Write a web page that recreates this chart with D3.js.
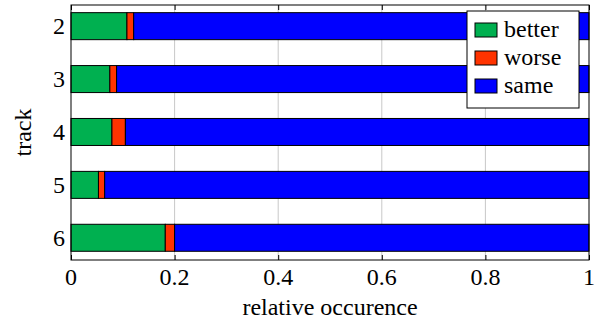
<!DOCTYPE html>
<html><head><meta charset="utf-8">
<script src="https://cdn.jsdelivr.net/npm/d3@7"></script>
</head><body style="margin:0">
<script>
const tracks = [2, 3, 4, 5, 6];
const better = [0.108, 0.075, 0.079, 0.053, 0.182];
const worse = [0.013, 0.013, 0.026, 0.012, 0.018];
const seriesNames = ["better", "worse", "same"];
const seriesColors = ["#00b050", "#ff3300", "#0000ff"];
const xTicks = [0, 0.2, 0.4, 0.6, 0.8, 1];

const FONT = "'Liberation Serif', 'Times New Roman', serif";
const W = 602, H = 326;
const L = 71, R = 589, T = 5, B = 260;
const svg = d3.select("body").append("svg").attr("width", W).attr("height", H).style("display", "block");
const x = d3.scaleLinear().domain([0, 1]).range([L, R]);
const y = d3.scaleLinear().domain([1.6, 6.42]).range([T, B]);
const barH = 27;
const fmt = d => d === 0 ? "0" : d === 1 ? "1" : d3.format(".1f")(d);
const addText = (px, py, s, anchor, rot) => svg.append("text")
  .attr("transform", `translate(${px},${py})` + (rot ? ` rotate(${rot})` : ""))
  .attr("text-anchor", anchor).attr("font-size", 24).style("font-family", FONT)
  .attr("fill", "#000").text(s);

// grid
svg.append("g").selectAll("line").data(xTicks.slice(1, -1)).join("line")
  .attr("x1", d => x(d)).attr("x2", d => x(d)).attr("y1", T).attr("y2", B)
  .attr("stroke", "#c8c8c8").attr("stroke-width", 1);

// stacked bars
const rows = tracks.map((t, i) => ({track: t, better: better[i], worse: worse[i], same: 1 - better[i] - worse[i]}));
const stack = d3.stack().keys(seriesNames)(rows);
stack.forEach((s, k) => {
  svg.append("g").selectAll("rect").data(s).join("rect")
    .attr("x", d => x(d[0])).attr("width", d => x(d[1]) - x(d[0]))
    .attr("y", d => y(d.data.track) - barH / 2).attr("height", barH)
    .attr("fill", seriesColors[k]).attr("stroke", "#000").attr("stroke-width", 1);
});

// frame
svg.append("rect").attr("x", L).attr("y", T).attr("width", R - L).attr("height", B - T)
  .attr("fill", "none").attr("stroke", "#000").attr("stroke-width", 1);

// ticks
const gx = svg.append("g").attr("transform", `translate(0,${B})`)
  .call(d3.axisBottom(x).tickValues(xTicks).tickSize(-5).tickFormat(""));
gx.select(".domain").remove();
const gxt = svg.append("g").attr("transform", `translate(0,${T})`)
  .call(d3.axisTop(x).tickValues(xTicks).tickSize(-5).tickFormat(""));
gxt.select(".domain").remove();
xTicks.forEach(v => addText(x(v), B + 25, fmt(v), "middle"));
tracks.forEach(t => addText(L - 6, y(t) + 8, String(t), "end"));

// labels
addText((L + R) / 2, 315, "relative occurence", "middle");
addText(31, (T + B) / 2, "track", "middle", -90);

// legend
svg.append("rect").attr("x", 467).attr("y", 11).attr("width", 112).attr("height", 97)
  .attr("fill", "#fff").attr("stroke", "#000").attr("stroke-width", 1);
seriesNames.forEach((n, i) => {
  const cy = 30 + i * 28;
  svg.append("rect").attr("x", 475).attr("y", cy - 7).attr("width", 22).attr("height", 14)
    .attr("fill", seriesColors[i]).attr("stroke", "#000").attr("stroke-width", 1);
  addText(504, cy + 7, n, "start");
});
</script>
</body></html>
